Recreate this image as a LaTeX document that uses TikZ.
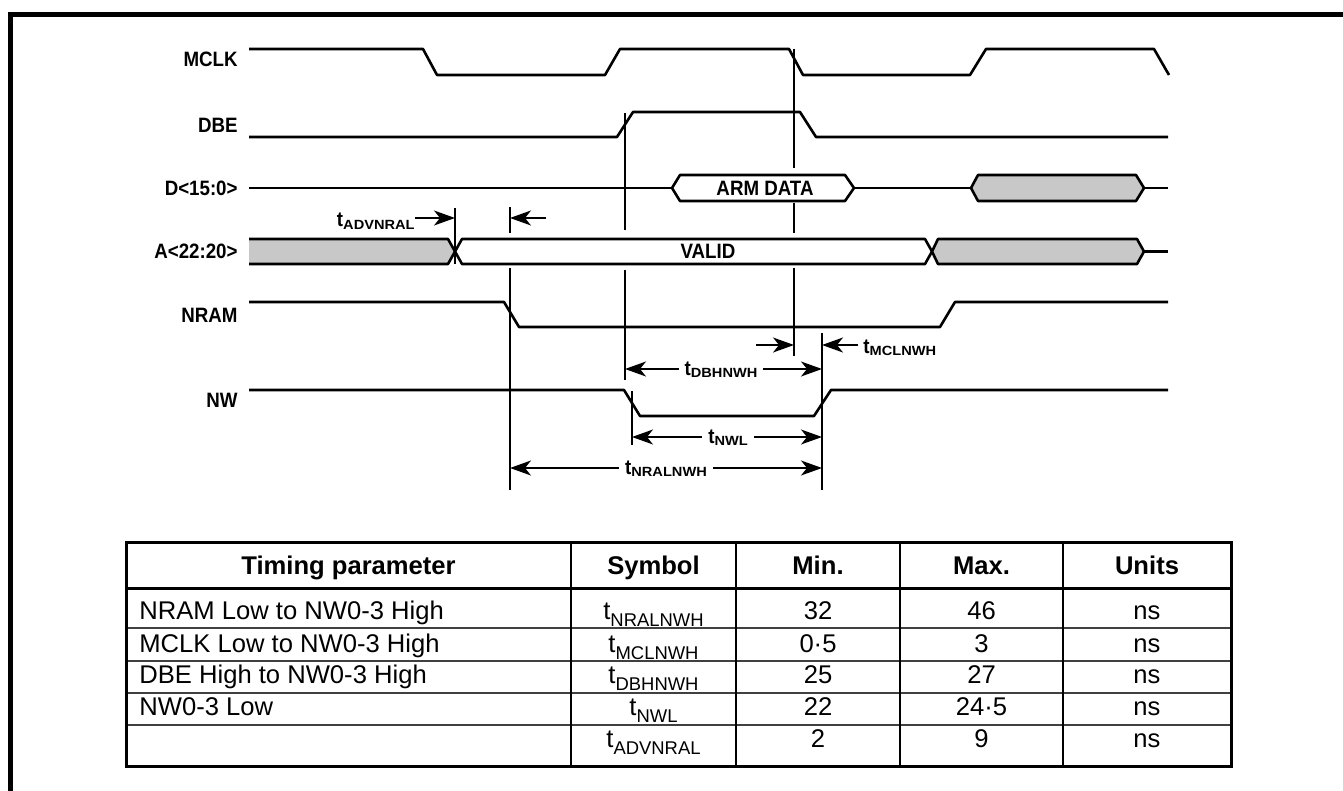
\documentclass[tikz,border=0pt]{standalone}
\usepackage{fontspec}
\setmainfont{Liberation Sans}
\newfontfamily\lblfont[FakeStretch=0.9]{Liberation Sans}
\usepackage{xcolor}
\usetikzlibrary{arrows.meta}
\definecolor{busgrey}{RGB}{200,200,200}
\newcommand{\tsym}[1]{t\raisebox{-0.3em}{\scalebox{0.72}{#1}}}
\newcommand{\tlbl}[1]{t\raisebox{-0.1em}{\scalebox{0.78}[0.64]{#1}}}

\begin{document}
\begin{tikzpicture}[x=0.5pt,y=-0.5pt,
  every node/.style={inner sep=0pt},
  siglbl/.style={font=\fontsize{10.4}{12}\lblfont\bfseries},
  sig/.style={line width=1.3pt,line join=round},
  guide/.style={line width=0.7pt},
  dim/.style={line width=0.75pt,-{Stealth[length=10.5pt,width=7.5pt,inset=3pt]}},
  ddim/.style={line width=0.75pt,{Stealth[length=10.5pt,width=7.5pt,inset=3pt]}-{Stealth[length=10.5pt,width=7.5pt,inset=3pt]}},
  cell/.style={font=\fontsize{12.8}{15}\selectfont,anchor=base},
  headcell/.style={font=\fontsize{12.8}{15}\selectfont\bfseries,anchor=base}]
\useasboundingbox (0,0) rectangle (1343,791);
% frame
\draw[line width=2.5pt] (10.5,791) -- (10.5,14.5) -- (1343,14.5);

% signal names
\node[siglbl,anchor=east] (mclk) at (238,59.5) {MCLK};
\node[siglbl,anchor=east] (dbe) at (238,125.5) {DBE};
\node[siglbl,anchor=east] (dbus) at (238,188) {D<15:0>};
\node[siglbl,anchor=east] (abus) at (238,251) {A<22:20>};
\node[siglbl,anchor=east] (nram) at (238,315) {NRAM};
\node[siglbl,anchor=east] (nw) at (238,400) {NW};

% guides
\draw[guide] (455,208) -- (455,264);
\draw[guide] (510,207) -- (510,233);
\draw[guide] (510,268) -- (510,490);
\draw[guide] (625,113) -- (625,230);
\draw[guide] (625,270) -- (625,380);
\draw[guide] (794,49) -- (794,168);
\draw[guide] (794,203) -- (794,233);
\draw[guide] (794,268) -- (794,356);
\draw[guide] (632,391) -- (632,445);
\draw[guide] (822,333) -- (822,490);

% MCLK
\draw[sig] (249,49) -- (423,49) -- (437,75) -- (605,75) -- (620,49) -- (789,49) -- (803,75)
  -- (970,75) -- (986,49) -- (1154,49) -- (1169,75);
% DBE
\draw[sig] (249,137) -- (617,137) -- (633,112) -- (800,112) -- (816,137) -- (1168,137);
% D<15:0>
\draw[sig] (249,188) -- (672,188);
\draw[sig,fill=white] (672,188) -- (680,175) -- (845,175) -- (854,188) -- (845,201) -- (680,201) -- cycle;
\node[siglbl] (armdata) at (765,188) {ARM DATA};
\draw[sig] (854,188) -- (971,188);
\draw[sig,fill=busgrey] (971,188) -- (978,175) -- (1136,175) -- (1144,188) -- (1136,201) -- (978,201) -- cycle;
\draw[sig] (1144,188) -- (1168,188);
% A<22:20>
\fill[busgrey] (249,239) -- (448,239) -- (455,251.5) -- (448,264) -- (249,264) -- cycle;
\draw[sig] (249,239) -- (448,239) -- (455,251.5) -- (448,264) -- (249,264);
\draw[sig,fill=white] (455,251.5) -- (462,239) -- (925,239) -- (932,251.5) -- (925,264) -- (462,264) -- cycle;
\node[siglbl] (valid) at (708,251.5) {VALID};
\draw[sig,fill=busgrey] (932,251.5) -- (938,239) -- (1137,239) -- (1144,251.5) -- (1137,264) -- (938,264) -- cycle;
\draw[sig] (1144,251.5) -- (1168,251.5);
% NRAM
\draw[sig] (249,302) -- (504,302) -- (519,327) -- (940,327) -- (955,302) -- (1168,302);
% NW
\draw[sig] (249,390) -- (624,390) -- (640,416) -- (814,416) -- (831,390) -- (1168,390);

% timing arrows
\node[siglbl,anchor=base east] (advlbl) at (415,227) {\tlbl{ADVNRAL}};
\coordinate (advtip) at (455,218);
\draw[dim] (advlbl.east |- advtip) -- (advtip);
\coordinate (advtail) at (546,218);
\coordinate (nraltip) at (510,218);
\draw[dim] (advtail) -- (nraltip);

\coordinate (mcltail) at (756,345);
\coordinate (mcltip) at (794,345);
\draw[dim] (mcltail) -- (mcltip);
\node[siglbl,anchor=base west] (mcllbl) at (863,353) {\tlbl{MCLNWH}};
\coordinate (nwhtip) at (822,345);
\draw[dim] (mcllbl.west |- nwhtip) ++(-5,0) -- (nwhtip);

\coordinate (dbhL) at (625,369);
\coordinate (dbhR) at (822,369);
\draw[ddim] (dbhL) -- (dbhR);
\node[siglbl,anchor=base,fill=white,inner xsep=3pt] (dbhlbl) at (721,375) {\tlbl{DBHNWH}};

\coordinate (nwlL) at (632,437);
\coordinate (nwlR) at (822,437);
\draw[ddim] (nwlL) -- (nwlR);
\node[siglbl,anchor=base,fill=white,inner xsep=3pt] (nwllbl) at (728,443) {\tlbl{NWL}};

\coordinate (nralL) at (510,468);
\coordinate (nralR) at (822,468);
\draw[ddim] (nralL) -- (nralR);
\node[siglbl,anchor=base,fill=white,inner xsep=3pt] (nrallbl) at (666,474) {\tlbl{NRALNWH}};

% table
\draw[black!75,line width=0.9pt] (126,628) -- (1231,628);
\draw[black!75,line width=0.9pt] (126,661) -- (1231,661);
\draw[black!75,line width=0.9pt] (126,693) -- (1231,693);
\draw[black!75,line width=0.9pt] (126,725) -- (1231,725);
\draw[line width=1.2pt] (571,542) -- (571,766);
\draw[line width=1.2pt] (736,542) -- (736,766);
\draw[line width=1.2pt] (900,542) -- (900,766);
\draw[line width=1.2pt] (1063,542) -- (1063,766);
\draw[line width=1.5pt] (126,588) -- (1231,588);
\draw[line width=1.5pt] (126,542) rectangle (1231,766);

\node[headcell] (hparam) at (348.5,574) {Timing parameter};
\node[headcell] (hsym) at (653.5,574) {Symbol};
\node[headcell] (hmin) at (818,574) {Min.};
\node[headcell] (hmax) at (981.5,574) {Max.};
\node[headcell] (hunit) at (1147,574) {Units};

\node[cell,anchor=base west] (p1) at (139,619) {NRAM Low to NW0-3 High};
\node[cell] (s1) at (653.5,619) {\tsym{NRALNWH}};
\node[cell] (mn1) at (818,619) {32};
\node[cell] (mx1) at (981.5,619) {46};
\node[cell] (u1) at (1147,619) {ns};

\node[cell,anchor=base west] (p2) at (139,652) {MCLK Low to NW0-3 High};
\node[cell] (s2) at (653.5,652) {\tsym{MCLNWH}};
\node[cell] (mn2) at (818,652) {0·5};
\node[cell] (mx2) at (981.5,652) {3};
\node[cell] (u2) at (1147,652) {ns};

\node[cell,anchor=base west] (p3) at (139,683) {DBE High to NW0-3 High};
\node[cell] (s3) at (653.5,683) {\tsym{DBHNWH}};
\node[cell] (mn3) at (818,683) {25};
\node[cell] (mx3) at (981.5,683) {27};
\node[cell] (u3) at (1147,683) {ns};

\node[cell,anchor=base west] (p4) at (139,715) {NW0-3 Low};
\node[cell] (s4) at (653.5,715) {\tsym{NWL}};
\node[cell] (mn4) at (818,715) {22};
\node[cell] (mx4) at (981.5,715) {24·5};
\node[cell] (u4) at (1147,715) {ns};

\node[cell] (s5) at (653.5,747) {\tsym{ADVNRAL}};
\node[cell] (mn5) at (818,747) {2};
\node[cell] (mx5) at (981.5,747) {9};
\node[cell] (u5) at (1147,747) {ns};
\end{tikzpicture}
\end{document}
